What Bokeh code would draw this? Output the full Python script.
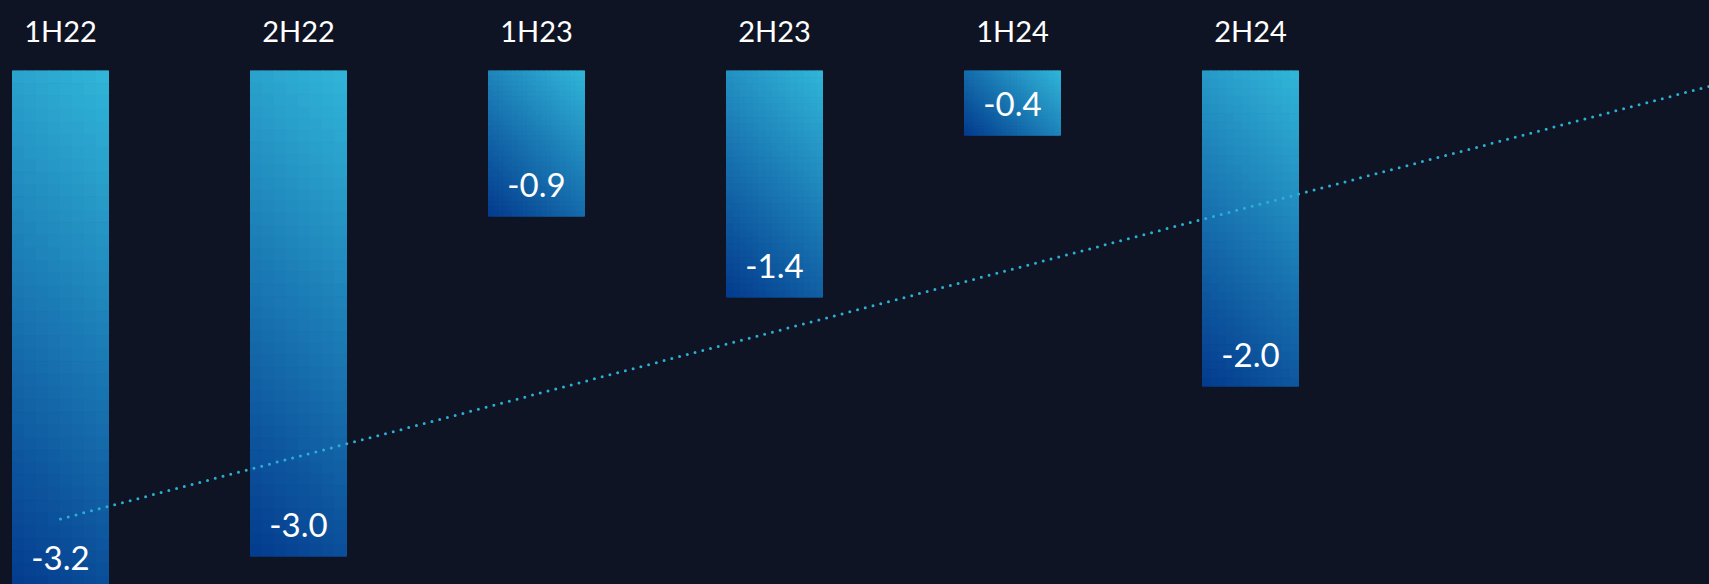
import math
import numpy as np
from bokeh.plotting import figure
from bokeh.models import ColumnDataSource, FixedTicker, GlobalInlineStyleSheet
from bokeh.core.properties import value
from bokeh.embed import file_html
from bokeh.resources import INLINE

# ---- data ----
periods = ["1H22", "2H22", "1H23", "2H23", "1H24", "2H24"]
values = [-3.2, -3.0, -0.9, -1.4, -0.4, -1.95]
value_labels = ["-3.2", "-3.0", "-0.9", "-1.4", "-0.4", "-2.0"]
trend_x = [0, 7]
trend_y = [-2.77, -0.07]

# ---- style ----
BG = "#0E1423"
DARK = np.array([0x03, 0x3A, 0x8D], dtype=float)
LIGHT = np.array([0x31, 0xB6, 0xD9], dtype=float)
TREND = "#2BAFD6"
FONT = "Lato"
W, H = 1709, 584
TOP = 70
PX_X, PX_Y = 238.0, 161.9
X_START = -60 / PX_X
X_END = X_START + W / PX_X
Y_END = 0.0
Y_START = -(H - TOP) / PX_Y
BAR_W = 96 / PX_X

xs = list(range(len(periods)))

# gradient cells for each bar (diagonal: dark bottom-left -> light top-right)
l, r, b, t, c = [], [], [], [], []
for xi, v in zip(xs, values):
    left = xi - BAR_W / 2
    wpx = BAR_W * PX_X
    hpx = abs(v) * PX_Y
    cs = (wpx + hpx) / 48.0
    nc = max(1, math.ceil(wpx / cs))
    nr = max(1, math.ceil(hpx / cs))
    for ci in range(nc):
        for ri in range(nr):
            u0, u1 = ci / nc, (ci + 1) / nc
            r0, r1 = ri / nr, (ri + 1) / nr  # fraction from bottom
            uc, rc = (u0 + u1) / 2, (r0 + r1) / 2
            tt = (uc * wpx + rc * hpx) / (wpx + hpx)
            col = DARK + (LIGHT - DARK) * tt
            l.append(left + u0 * BAR_W)
            r.append(left + u1 * BAR_W)
            b.append(v + r0 * abs(v))
            t.append(v + r1 * abs(v))
            c.append("#%02x%02x%02x" % tuple(int(round(k)) for k in col))

cells = ColumnDataSource(dict(left=l, right=r, bottom=b, top=t, color=c))

p = figure(width=W, height=H, output_backend="svg", toolbar_location=None,
           x_range=(X_START, X_END), y_range=(Y_START, Y_END),
           x_axis_location="above", y_axis_location=None,
           min_border_left=0, min_border_right=0, min_border_bottom=0,
           min_border_top=TOP,
           background_fill_color=BG, border_fill_color=BG, outline_line_color=None)
p.stylesheets = [GlobalInlineStyleSheet(css="body{background:%s;}" % BG)]
p.grid.visible = False

p.quad(left="left", right="right", bottom="bottom", top="top", source=cells,
       fill_color="color", line_color="color", line_width=1)

p.line(trend_x, trend_y, line_color=TREND, line_width=3, line_dash="0 8",
       line_cap="round")

p.text(x=xs, y=values, text=value_labels, text_color="#FFFFFF",
       text_font=value(FONT), text_font_size="33px", text_align="center",
       text_baseline="alphabetic", y_offset=-31)

ax = p.xaxis[0]
ax.ticker = FixedTicker(ticks=xs)
ax.major_label_overrides = {i: s for i, s in zip(xs, periods)}
ax.axis_line_color = None
ax.major_tick_line_color = None
ax.minor_tick_line_color = None
ax.major_label_standoff = 17
ax.major_label_text_font = FONT
ax.major_label_text_font_size = "29px"
ax.major_label_text_color = "#FFFFFF"

open("out.html", "w").write(file_html(p, INLINE))
